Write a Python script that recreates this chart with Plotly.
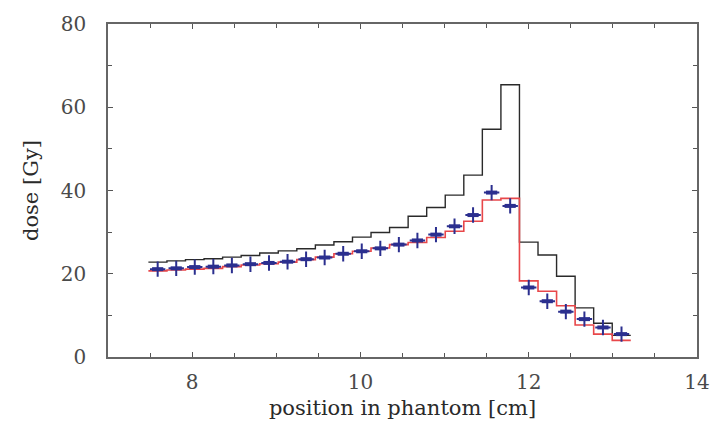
import numpy as np
import plotly.graph_objects as go

# Depth bins along the beam axis (cm)
bin_start = 7.48
bin_width = 0.2205
n_bins = 26

# Simulated dose per bin, two models (Gy)
dose_model_a = [22.8, 23.1, 23.4, 23.6, 24.0, 24.4, 25.0, 25.5, 26.0, 26.9,
                27.7, 28.8, 29.9, 31.1, 33.8, 35.9, 38.9, 43.7, 54.7, 65.4,
                27.6, 24.5, 19.4, 11.8, 8.1, 5.2]
dose_model_b = [20.7, 20.9, 21.1, 21.3, 21.7, 22.1, 22.4, 22.8, 23.4, 24.0,
                24.8, 25.4, 26.2, 27.0, 27.5, 28.7, 30.2, 32.6, 37.7, 38.1,
                18.3, 15.8, 12.3, 7.7, 5.5, 4.0]

# Measured dose at bin centres (Gy)
dose_measured = [21.1, 21.3, 21.6, 21.7, 22.0, 22.3, 22.6, 22.9, 23.5, 23.9,
                 24.8, 25.4, 26.1, 27.0, 28.0, 29.4, 31.4, 34.1, 39.5, 36.3,
                 16.7, 13.4, 10.9, 9.1, 7.1, 5.5]

edges = bin_start + bin_width * np.arange(n_bins + 1)
centres = 0.5 * (edges[:-1] + edges[1:])

fig = go.Figure()

fig.add_trace(go.Scatter(
    x=edges, y=dose_model_a + [dose_model_a[-1]],
    mode="lines", line=dict(shape="hv", color="#2a2a2a", width=1.4),
    showlegend=False, hoverinfo="skip"))

fig.add_trace(go.Scatter(
    x=edges, y=dose_model_b + [dose_model_b[-1]],
    mode="lines", line=dict(shape="hv", color="#e8474a", width=1.6),
    showlegend=False, hoverinfo="skip"))

# measurement points: a plus sign with a thick horizontal core
fig.add_trace(go.Scatter(
    x=centres, y=dose_measured, mode="markers",
    marker=dict(symbol="cross-thin", size=11,
                line=dict(color="#2b2f8f", width=2)),
    showlegend=False, hoverinfo="skip"))
fig.add_trace(go.Scatter(
    x=centres, y=dose_measured, mode="markers",
    marker=dict(symbol="line-ew", size=8,
                line=dict(color="#2b2f8f", width=4)),
    showlegend=False, hoverinfo="skip"))

axis_font = dict(family="DejaVu Serif", size=20, color="#4a4a4a")
title_font = dict(family="DejaVu Serif", size=21, color="#2a2a2a")

fig.update_xaxes(
    range=[7, 14], dtick=2, tick0=0,
    ticks="inside", ticklen=5, tickwidth=1.2, tickcolor="#555555",
    minor=dict(dtick=0.5, ticks="inside", ticklen=4, tickwidth=1.2,
               tickcolor="#555555"),
    showline=True, linecolor="#666666", linewidth=1.6, mirror="ticks",
    showgrid=False, zeroline=False,
    tickfont=axis_font, ticklabelstandoff=6,
    title=dict(text="position in phantom [cm]", font=title_font, standoff=8),
)
fig.update_yaxes(
    range=[0, 80], dtick=20,
    ticks="inside", ticklen=5, tickwidth=1.2, tickcolor="#555555",
    minor=dict(dtick=10, ticks="inside", ticklen=4, tickwidth=1.2,
               tickcolor="#555555"),
    showline=True, linecolor="#666666", linewidth=1.6, mirror="ticks",
    showgrid=False, zeroline=False,
    tickfont=axis_font, ticklabelstandoff=16,
    title=dict(text="dose [Gy]", font=title_font, standoff=16),
)

fig.update_layout(
    width=722, height=439,
    margin=dict(l=108, r=14, t=16, b=82),
    paper_bgcolor="white", plot_bgcolor="white",
)

fig.write_html("out.html")
